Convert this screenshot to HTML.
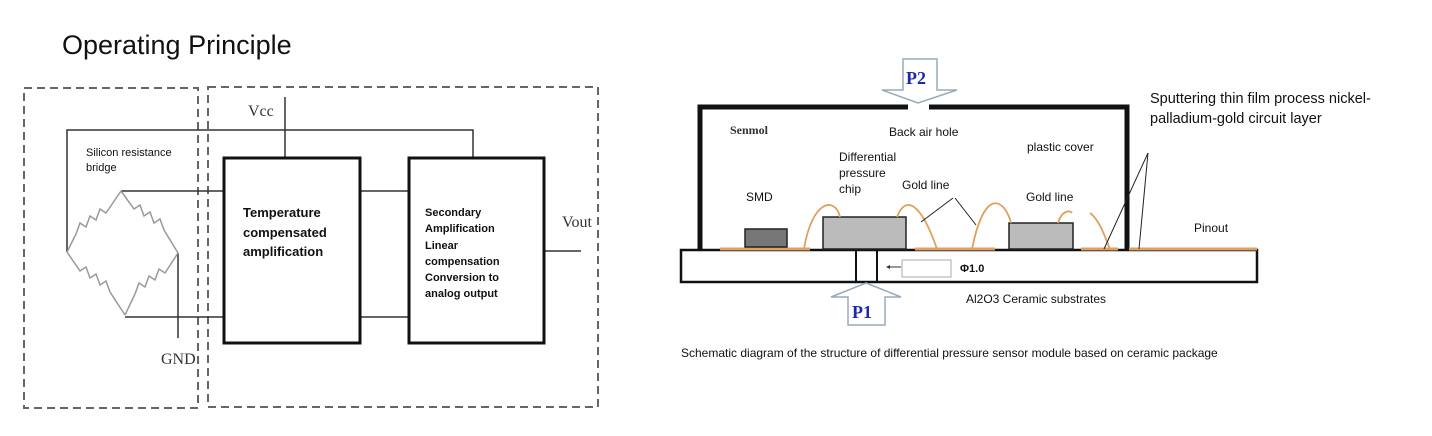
<!DOCTYPE html>
<html><head><meta charset="utf-8"><style>
html,body{margin:0;padding:0;background:#fff;}
svg{display:block;}
.s{font-family:"Liberation Sans",sans-serif;}
.r{font-family:"Liberation Serif",serif;}
</style></head><body>
<svg width="1432" height="436" viewBox="0 0 1432 436" xmlns="http://www.w3.org/2000/svg" font-family="Liberation Sans, sans-serif">
<text class="s" x="62" y="54" font-size="27" fill="#111">Operating Principle</text>
<g fill="none" stroke="#666" stroke-width="2" stroke-dasharray="8,5">
<rect x="24" y="88" width="174" height="320"/>
<rect x="208" y="87" width="390" height="320"/>
</g>
<g fill="none" stroke="#333" stroke-width="1.5">
<polyline points="67,252 67,130 473,130 473,158"/>
<line x1="285" y1="97" x2="285" y2="158"/>
<line x1="121" y1="191" x2="224" y2="191"/>
<line x1="125" y1="317" x2="224" y2="317"/>
<line x1="178" y1="253" x2="178" y2="338"/>
<line x1="360" y1="191" x2="409" y2="191"/>
<line x1="360" y1="317" x2="409" y2="317"/>
<line x1="544" y1="251" x2="581" y2="251"/>
</g>
<g fill="none" stroke="#111" stroke-width="3">
<rect x="224" y="158" width="136" height="185"/>
<rect x="409" y="158" width="135" height="185"/>
</g>
<g fill="none" stroke="#999" stroke-width="1.5">
<polyline points="121,191 106,213 100,209 96,220 90,216 86,227 80,223 76,234 67,252"/>
<polyline points="121,191 134,209 140,205 144,216 150,212 154,223 160,219 164,230 178,253"/>
<polyline points="67,252 80,271 86,267 90,278 96,274 100,285 106,281 110,292 125,315"/>
<polyline points="178,253 165,273 159,269 155,280 149,276 145,287 139,283 135,294 125,315"/>
</g>
<g fill="#333">
<text class="r" x="248" y="116" font-size="16">Vcc</text>
<text class="r" x="161" y="364" font-size="16">GND</text>
<text class="r" x="562" y="227" font-size="16">Vout</text>
</g>
<g font-size="11" fill="#111">
<text x="86" y="156">Silicon resistance</text>
<text x="86" y="171">bridge</text>
</g>
<g font-size="13" font-weight="bold" fill="#111">
<text x="243" y="217">Temperature</text>
<text x="243" y="237">compensated</text>
<text x="243" y="256">amplification</text>
</g>
<g font-size="11" font-weight="bold" fill="#111">
<text x="425" y="216">Secondary</text>
<text x="425" y="232">Amplification</text>
<text x="425" y="249">Linear</text>
<text x="425" y="265">compensation</text>
<text x="425" y="281">Conversion to</text>
<text x="425" y="297">analog output</text>
</g>

<g fill="none" stroke="#111" stroke-width="5">
<polyline points="700,250 700,107 908,107"/>
<polyline points="929,107 1127,107 1127,250"/>
</g>
<rect x="681" y="250" width="576" height="32" fill="#fff" stroke="#111" stroke-width="2.5"/>
<line x1="856" y1="250" x2="856" y2="282" stroke="#111" stroke-width="2"/>
<line x1="877" y1="250" x2="877" y2="282" stroke="#111" stroke-width="2"/>
<rect x="902" y="260" width="49" height="17" fill="#fff" stroke="#aaa" stroke-width="1"/>
<line x1="888" y1="267" x2="901" y2="267" stroke="#333" stroke-width="1"/>
<polygon points="886,267 890,265 890,269" fill="#333"/>
<text x="960" y="272" font-size="11" font-weight="bold" fill="#111">Φ1.0</text>
<g stroke="#e0a060" stroke-width="3">
<line x1="720" y1="249" x2="810" y2="249"/>
<line x1="915" y1="249" x2="995" y2="249"/>
<line x1="1081" y1="249" x2="1118" y2="249"/>
<line x1="1129" y1="249" x2="1257" y2="249"/>
</g>
<rect x="745" y="229" width="42" height="18" fill="#777" stroke="#222" stroke-width="1.5"/>
<rect x="823" y="217" width="83" height="32" fill="#bbb" stroke="#222" stroke-width="1.5"/>
<rect x="1009" y="223" width="64" height="26" fill="#bbb" stroke="#222" stroke-width="1.5"/>
<g fill="none" stroke="#e0a060" stroke-width="1.8">
<path d="M804,249 C812,200 835,196 840,217"/>
<path d="M897,217 C905,196 920,200 937,249"/>
<path d="M972,249 C985,185 1005,200 1011,223"/>
<path d="M1058,223 C1062,210 1070,210 1072,213"/>
<path d="M1090,213 C1100,220 1106,240 1110,249"/>
</g>
<g stroke="#222" stroke-width="1">
<line x1="953" y1="198" x2="921" y2="222"/>
<line x1="955" y1="198" x2="976" y2="225"/>
<line x1="1148" y1="153" x2="1104" y2="249"/>
<line x1="1148" y1="153" x2="1139" y2="249"/>
</g>
<polygon points="903,59 937,59 937,90 957,90 918,103 882,90 903,90" fill="#fff" stroke="#9ab" stroke-width="1.5"/>
<text class="r" x="906" y="84" font-size="18" font-weight="bold" fill="#1a2aa8">P2</text>
<polygon points="866,283 901,297 885,297 885,325 848,325 848,297 831,297" fill="#fff" stroke="#9ab" stroke-width="1.5"/>
<text class="r" x="852" y="318" font-size="18" font-weight="bold" fill="#1a2aa8">P1</text>
<text class="r" x="730" y="134" font-size="12" font-weight="bold" fill="#333">Senmol</text>
<g font-size="12" fill="#111">
<text x="889" y="136">Back air hole</text>
<text x="1027" y="151">plastic cover</text>
<text x="839" y="161">Differential</text>
<text x="839" y="177">pressure</text>
<text x="839" y="193">chip</text>
<text x="746" y="201">SMD</text>
<text x="902" y="189">Gold  line</text>
<text x="1026" y="201">Gold  line</text>
<text x="1194" y="232">Pinout</text>
<text x="966" y="303">Al2O3 Ceramic substrates</text>
</g>
<text x="681" y="357" font-size="12" fill="#111">Schematic diagram of the structure of differential pressure sensor module based on ceramic package</text>
<g font-size="14.5" fill="#111">
<text x="1150" y="103">Sputtering thin film process nickel-</text>
<text x="1150" y="123">palladium-gold circuit layer</text>
</g>
</svg>
</body></html>
